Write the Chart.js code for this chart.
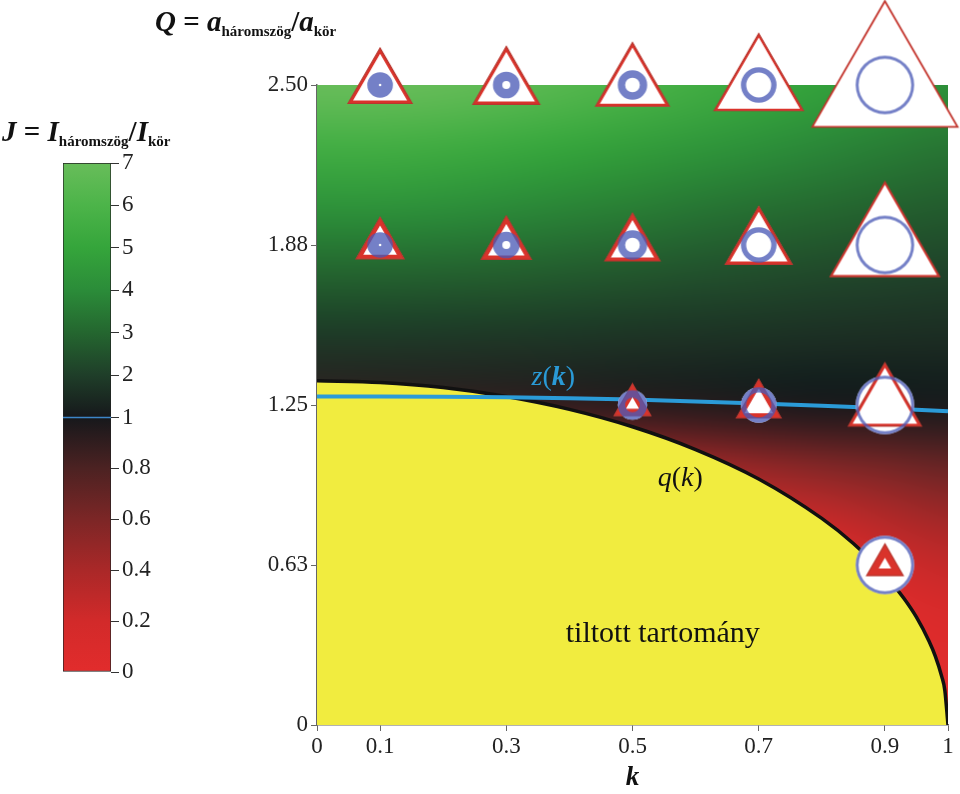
<!DOCTYPE html>
<html><head><meta charset="utf-8">
<script src="https://cdn.jsdelivr.net/npm/chart.js@4.4.0/dist/chart.umd.min.js"></script>
<style>
html,body{margin:0;padding:0;background:#fff;width:960px;height:794px;overflow:hidden;}
#wrap{position:relative;width:960px;height:794px;}
canvas{position:absolute;left:0;top:0;}
.ttl{position:absolute;font-family:'Liberation Serif','Times New Roman',serif;font-weight:bold;font-size:29px;color:#111;white-space:nowrap;line-height:1;}
.ttl sub{font-size:15px;vertical-align:baseline;position:relative;top:5px;}
</style></head><body>
<div id="wrap">
<canvas id="main" width="960" height="794"></canvas>
<canvas id="cbar" width="157" height="794"></canvas>
<div class="ttl" style="left:155px;top:7px;"><i>Q</i> = <i>a</i><sub>háromszög</sub>/<i>a</i><sub>kör</sub></div>
<div class="ttl" style="left:2px;top:117px;"><i>J</i> = <i>I</i><sub>háromszög</sub>/<i>I</i><sub>kör</sub></div>
</div>
<script>
// ---------- data ----------
const kTicks = [0, 0.1, 0.3, 0.5, 0.7, 0.9, 1];
const kTickLabels = ['0', '0.1', '0.3', '0.5', '0.7', '0.9', '1'];
const qTicks = [0, 0.625, 1.25, 1.875, 2.5];
const qTickLabels = ['0', '0.63', '1.25', '1.88', '2.50'];

// colour bar (J values and colours)
const cbValues = [0, 0.2, 0.4, 0.6, 0.8, 1, 2, 3, 4, 5, 6, 7];
const cbColors = ['#e22c2c', '#d22a2a', '#aa2828', '#7c2626', '#4c2222', '#16181b',
                  '#1f3e29', '#24662f', '#2b8c39', '#35a53b', '#4cb449', '#68bd5a'];
const cbTickLabels = ['0', '0.2', '0.4', '0.6', '0.8', '1', '2', '3', '4', '5', '6', '7'];

// J field grid: columns = kGrid, rows = qGrid
const kGrid = [0, 0.1, 0.2, 0.3, 0.4, 0.5, 0.6, 0.7, 0.8, 0.9, 1];
const qGrid = [0, 0.25, 0.5, 0.75, 1.0, 1.25, 1.5, 1.75, 2.0, 2.25, 2.5];
const jRows = [
  [0, 0, 0, 0, 0, 0, 0, 0, 0, 0, 0],
  [0, 0, 0, 0, 0, 0, 0, 0, 0, 0, 0.04],
  [0, 0, 0, 0, 0, 0, 0, 0, 0, 0.06, 0.17],
  [0, 0, 0, 0, 0, 0, 0, 0.09, 0.19, 0.29, 0.38],
  [0.12, 0.14, 0.17, 0.21, 0.27, 0.34, 0.41, 0.48, 0.55, 0.61, 0.67],
  [0.87, 0.88, 0.89, 0.90, 0.92, 0.94, 0.96, 0.98, 1.01, 1.02, 1.04],
  [1.79, 1.79, 1.77, 1.74, 1.71, 1.67, 1.64, 1.60, 1.56, 1.53, 1.50],
  [2.87, 2.86, 2.81, 2.74, 2.64, 2.54, 2.43, 2.33, 2.22, 2.13, 2.04],
  [4.12, 4.10, 4.01, 3.88, 3.72, 3.54, 3.35, 3.17, 2.99, 2.82, 2.67],
  [5.54, 5.50, 5.37, 5.18, 4.94, 4.67, 4.39, 4.12, 3.85, 3.60, 3.38],
  [7.00, 7.00, 6.90, 6.64, 6.31, 5.94, 5.56, 5.18, 4.82, 4.48, 4.17]
];

// boundary curve q(k) (forbidden region below)
const qK = [0, 0.1, 0.2, 0.3, 0.4, 0.5, 0.6, 0.7, 0.8, 0.85, 0.9, 0.93, 0.95, 0.97, 0.98, 0.99, 0.995, 1];
const qQ = [1.345, 1.338, 1.318, 1.283, 1.233, 1.165, 1.076, 0.961, 0.807, 0.709, 0.587, 0.495, 0.421, 0.327, 0.268, 0.190, 0.135, 0];

// J = 1 line z(k)
const zK = [0, 0.1, 0.2, 0.3, 0.4, 0.5, 0.6, 0.7, 0.8, 0.9, 1];
const zQ = [1.283, 1.283, 1.282, 1.280, 1.276, 1.271, 1.264, 1.256, 1.247, 1.237, 1.226];

// illustration glyphs (k, Q)
const iconK = [0.1, 0.3, 0.5, 0.7, 0.9, 0.1, 0.3, 0.5, 0.7, 0.9, 0.5, 0.7, 0.9, 0.9];
const iconQ = [2.5, 2.5, 2.5, 2.5, 2.5, 1.875, 1.875, 1.875, 1.875, 1.875, 1.25, 1.25, 1.25, 0.625];

// ---------- helpers ----------
const SERIF = "'Liberation Serif','Times New Roman',serif";
function hex2rgb(h) { return [parseInt(h.slice(1, 3), 16), parseInt(h.slice(3, 5), 16), parseInt(h.slice(5, 7), 16)]; }
const cbRGB = cbColors.map(hex2rgb);
function colorFor(J) {
  if (J <= cbValues[0]) return cbRGB[0];
  for (let i = 1; i < cbValues.length; i++) {
    if (J <= cbValues[i]) {
      const f = (J - cbValues[i - 1]) / (cbValues[i] - cbValues[i - 1]);
      return cbRGB[i - 1].map((c, j) => Math.round(c + f * (cbRGB[i][j] - c)));
    }
  }
  return cbRGB[cbRGB.length - 1];
}
function jToPos(J) { return J <= 1 ? J : 1 + (J - 1) / 6; }

function makeIcon(k, Q) {
  const D = 25.5 / Math.sqrt(1 - k * k), R = D / 2, r = k * R;
  const a = Q * D, tt = Math.sqrt(Math.max(0, 1 - 1.8138 * (1 - k * k) / (Q * Q)));
  const Rt = a / Math.sqrt(3);
  const S = Math.ceil(2 * Math.max(Rt, R)) + 8;
  const c = document.createElement('canvas'); c.width = S; c.height = S;
  const g = c.getContext('2d'); const cx = S / 2, cy = S / 2;
  const tri = (s) => { g.moveTo(cx, cy - Rt * s); g.lineTo(cx + a / 2 * s, cy + Rt / 2 * s); g.lineTo(cx - a / 2 * s, cy + Rt / 2 * s); g.closePath(); };
  g.fillStyle = '#fff';
  g.beginPath(); tri(1); g.fill();
  g.beginPath(); g.arc(cx, cy, R, 0, 2 * Math.PI); g.fill();
  g.fillStyle = '#d9332b';
  g.beginPath(); tri(1); tri(tt); g.fill('evenodd');
  g.strokeStyle = '#b8362e'; g.lineWidth = 1.2;
  g.beginPath(); tri(1); g.stroke();
  g.fillStyle = 'rgba(72,88,182,0.76)';
  g.beginPath(); g.arc(cx, cy, R, 0, 2 * Math.PI); g.arc(cx, cy, r, 0, 2 * Math.PI, true); g.fill('evenodd');
  return c;
}
const iconCanvases = iconK.map((k, i) => makeIcon(k, iconQ[i]));

// heat map image (one pixel per grid cell, smoothed when scaled)
const heat = document.createElement('canvas');
heat.width = kGrid.length; heat.height = qGrid.length;
(function () {
  const g = heat.getContext('2d');
  const img = g.createImageData(heat.width, heat.height);
  for (let j = 0; j < qGrid.length; j++) {
    for (let i = 0; i < kGrid.length; i++) {
      const rgb = colorFor(jRows[j][i]);
      const p = ((qGrid.length - 1 - j) * heat.width + i) * 4;
      img.data[p] = rgb[0]; img.data[p + 1] = rgb[1]; img.data[p + 2] = rgb[2]; img.data[p + 3] = 255;
    }
  }
  g.putImageData(img, 0, 0);
})();

const heatPlugin = {
  id: 'heat',
  beforeDatasetsDraw(chart) {
    const { ctx, chartArea: ca, scales: { x, y } } = chart;
    const dk = kGrid[1] - kGrid[0], dq = qGrid[1] - qGrid[0];
    const x0 = x.getPixelForValue(kGrid[0] - dk / 2), x1 = x.getPixelForValue(kGrid[kGrid.length - 1] + dk / 2);
    const y0 = y.getPixelForValue(qGrid[qGrid.length - 1] + dq / 2), y1 = y.getPixelForValue(qGrid[0] - dq / 2);
    ctx.save();
    ctx.beginPath(); ctx.rect(ca.left, ca.top, ca.right - ca.left, ca.bottom - ca.top); ctx.clip();
    ctx.imageSmoothingEnabled = true; ctx.imageSmoothingQuality = 'high';
    ctx.drawImage(heat, x0, y0, x1 - x0, y1 - y0);
    ctx.restore();
  }
};

function drawPieces(ctx, pieces, px, py) {
  let cx = px;
  for (const p of pieces) {
    ctx.font = p.f; ctx.fillText(p.t, cx, py); cx += ctx.measureText(p.t).width;
  }
}
const labelPlugin = {
  id: 'labels',
  afterDatasetsDraw(chart) {
    const { ctx, scales: { x, y } } = chart;
    ctx.save();
    ctx.textBaseline = 'alphabetic'; ctx.textAlign = 'left';
    ctx.fillStyle = '#2a9ad6';
    drawPieces(ctx, [
      { t: 'z', f: `italic 28px ${SERIF}` }, { t: '(', f: `28px ${SERIF}` },
      { t: 'k', f: `italic bold 28px ${SERIF}` }, { t: ')', f: `28px ${SERIF}` }
    ], x.getPixelForValue(0.340), y.getPixelForValue(1.33));
    ctx.fillStyle = '#111';
    drawPieces(ctx, [
      { t: 'q', f: `italic 28px ${SERIF}` }, { t: '(', f: `28px ${SERIF}` },
      { t: 'k', f: `italic 28px ${SERIF}` }, { t: ')', f: `28px ${SERIF}` }
    ], x.getPixelForValue(0.540), y.getPixelForValue(0.935));
    ctx.font = `30px ${SERIF}`; ctx.textAlign = 'center';
    ctx.fillText('tiltott tartomány', x.getPixelForValue(0.548), y.getPixelForValue(0.325));
    ctx.restore();
  }
};

// ---------- main chart ----------
new Chart(document.getElementById('main'), {
  type: 'scatter',
  data: {
    datasets: [
      {
        type: 'scatter', label: 'glyphs', order: 0, clip: false,
        data: iconK.map((k, i) => ({ x: k, y: iconQ[i] })),
        pointStyle: (c) => iconCanvases[c.dataIndex], pointRadius: 10, pointHoverRadius: 10
      },
      {
        type: 'line', label: 'z(k)', order: 1,
        data: zK.map((k, i) => ({ x: k, y: zQ[i] })),
        borderColor: '#2b9bd8', borderWidth: 4, pointRadius: 0, fill: false,
        cubicInterpolationMode: 'monotone'
      },
      {
        type: 'line', label: 'q(k)', order: 2,
        data: qK.map((k, i) => ({ x: k, y: qQ[i] })),
        borderColor: '#111', borderWidth: 3.5, pointRadius: 0,
        backgroundColor: '#f1ec3f', fill: 'origin',
        cubicInterpolationMode: 'monotone'
      }
    ]
  },
  options: {
    responsive: false, animation: false, events: [],
    layout: { padding: { left: 257, right: 12, top: 85, bottom: 0 } },
    plugins: { legend: { display: false }, tooltip: { enabled: false } },
    scales: {
      x: {
        type: 'linear', min: 0, max: 1,
        afterBuildTicks: (s) => { s.ticks = kTicks.map(v => ({ value: v })); },
        afterFit: (s) => { s.height = 69; },
        ticks: { callback: (v, i) => kTickLabels[i], font: { family: SERIF, size: 23 }, color: '#222', padding: 2, maxRotation: 0, autoSkip: false },
        grid: { drawOnChartArea: false, drawTicks: true, tickLength: 6, color: '#666' },
        border: { display: true, color: '#666', width: 1.5 },
        title: { display: true, text: 'k', font: { family: SERIF, size: 27, style: 'italic', weight: 'bold', lineHeight: 1.0 }, color: '#111', padding: { top: 0, bottom: 2 } }
      },
      y: {
        type: 'linear', min: 0, max: 2.5,
        afterBuildTicks: (s) => { s.ticks = qTicks.map(v => ({ value: v })); },
        afterFit: (s) => { s.width = 60; },
        ticks: { callback: (v, i) => qTickLabels[i], font: { family: SERIF, size: 23 }, color: '#222', padding: 3, autoSkip: false },
        grid: { drawOnChartArea: false, drawTicks: true, tickLength: 6, color: '#666' },
        border: { display: true, color: '#666', width: 1.5 }
      }
    }
  },
  plugins: [heatPlugin, labelPlugin]
});

// ---------- colour bar ----------
const cbLinePlugin = {
  id: 'cbline',
  afterDatasetsDraw(chart) {
    const { ctx, chartArea: ca, scales: { y } } = chart;
    const py = y.getPixelForValue(jToPos(1));
    ctx.save(); ctx.strokeStyle = '#3c86c8'; ctx.lineWidth = 1.5;
    ctx.beginPath(); ctx.moveTo(ca.left, py); ctx.lineTo(ca.right, py); ctx.stroke(); ctx.restore();
  }
};
new Chart(document.getElementById('cbar'), {
  type: 'bar',
  data: {
    labels: ['J'],
    datasets: [{
      data: [[jToPos(cbValues[0]), jToPos(cbValues[cbValues.length - 1])]],
      backgroundColor: (c) => {
        const ch = c.chart; const y = ch.scales.y;
        if (!ch.chartArea || !y) return cbColors[0];
        const g = ch.ctx.createLinearGradient(0, y.getPixelForValue(0), 0, y.getPixelForValue(2));
        cbValues.forEach((v, i) => g.addColorStop(jToPos(v) / 2, cbColors[i]));
        return g;
      },
      borderColor: '#222', borderWidth: 1, borderSkipped: false,
      barPercentage: 1, categoryPercentage: 1
    }]
  },
  options: {
    responsive: false, animation: false, events: [],
    layout: { padding: { left: 63, right: 0, top: 163, bottom: 122 } },
    plugins: { legend: { display: false }, tooltip: { enabled: false } },
    scales: {
      x: { display: false },
      y: {
        type: 'linear', position: 'right', min: 0, max: 2,
        afterBuildTicks: (s) => { s.ticks = cbValues.map(v => ({ value: jToPos(v) })); },
        afterFit: (s) => { s.width = 46; },
        ticks: { callback: (v, i) => cbTickLabels[i], font: { family: SERIF, size: 23 }, color: '#222', padding: 3, autoSkip: false },
        grid: { drawOnChartArea: false, drawTicks: true, tickLength: 8, color: '#333' },
        border: { display: false }
      }
    }
  },
  plugins: [cbLinePlugin]
});
</script>
</body></html>
